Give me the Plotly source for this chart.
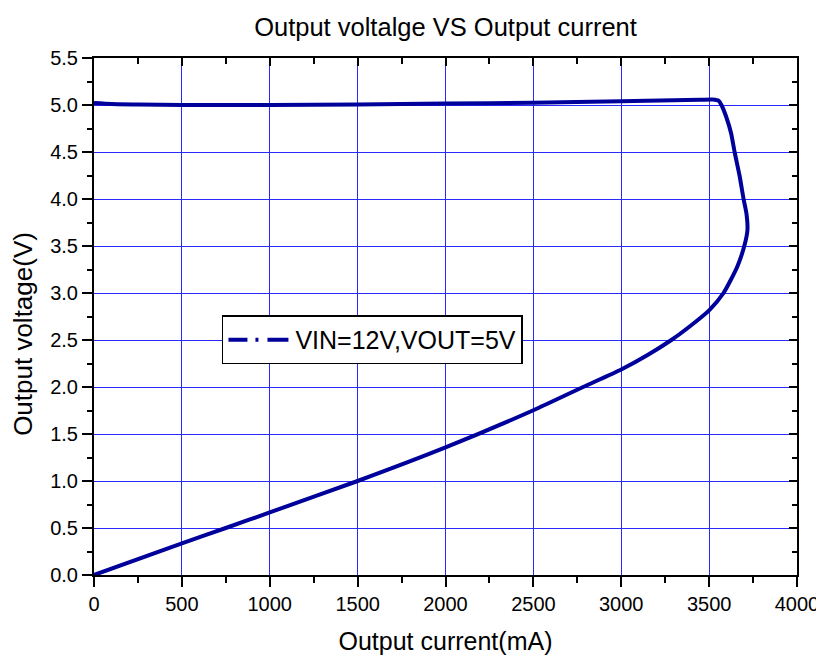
import plotly.graph_objects as go

# ---- data ----
current_ma = [0, 100, 250, 500, 1000, 1500, 2000, 2500, 3000, 3300, 3450, 3520,
              3555, 3570, 3598, 3625, 3645, 3673, 3696, 3712, 3718, 3700,
              3660, 3582, 3500, 3400, 3285, 3150, 3000, 2783,
              2500, 2000, 1500, 1000, 750, 500, 0]
voltage_v = [5.02, 5.01, 5.005, 5.0, 5.0, 5.005, 5.015, 5.025, 5.04, 5.05, 5.055, 5.058,
             5.045, 5.0, 4.87, 4.7, 4.5, 4.25, 4.0, 3.85, 3.67, 3.5,
             3.28, 3.0, 2.816, 2.66, 2.5, 2.34, 2.186, 2.0,
             1.753, 1.357, 1.0, 0.666, 0.5, 0.337, 0.0]
series_name = "VIN=12V,VOUT=5V"
title_text = "Output voltalge VS Output current"
x_title = "Output current(mA)"
y_title = "Output voltage(V)"

FONT = "Arial, 'Liberation Sans', sans-serif"
LINE_COLOR = "#00009B"
GRID_COLOR = "#2a2aff"

fig = go.Figure()
fig.add_trace(go.Scatter(
    x=current_ma, y=voltage_v, mode="lines",
    line=dict(color=LINE_COLOR, width=4, shape="spline", smoothing=0.6),
    showlegend=False, name=series_name,
))
# legend entry (dash-dot sample as in the reference), also anchors the mirror axes
fig.add_trace(go.Scatter(
    x=[None], y=[None], mode="lines", xaxis="x2", yaxis="y2",
    line=dict(color=LINE_COLOR, width=4, dash="19px,8px,3px,9px,21px,60px"),
    name=series_name, showlegend=True,
))

common_tick = dict(tickcolor="black", tickwidth=2)

# the page body adds an 8px offset, so the figure is 8px smaller on each side
fig.update_layout(
    width=816, height=649,
    margin=dict(l=85.5, r=26.5, t=49.5, b=82, autoexpand=False),
    paper_bgcolor="white", plot_bgcolor="white",
    font=dict(family=FONT, color="black"),
    title=dict(text=title_text, xref="paper", x=0.5, xanchor="center",
               y=0.9707, yanchor="middle",
               font=dict(size=25.5, family=FONT, color="black")),
    xaxis=dict(
        range=[0, 4000], dtick=500, tick0=0, automargin=False,
        ticks="outside", ticklen=10, **common_tick,
        minor=dict(dtick=250, ticks="outside", ticklen=6, tickcolor="black", tickwidth=2, showgrid=False),
        showgrid=True, gridcolor=GRID_COLOR, gridwidth=1,
        showline=True, linecolor="black", linewidth=2, zeroline=False,
        tickfont=dict(size=20, family=FONT),
        title=dict(text=x_title, font=dict(size=25, family=FONT), standoff=18),
    ),
    yaxis=dict(
        range=[0, 5.5], dtick=0.5, tick0=0, tickformat=".1f", automargin=False,
        ticks="outside", ticklen=10, **common_tick,
        minor=dict(dtick=0.25, ticks="outside", ticklen=5, tickcolor="black", tickwidth=2, showgrid=False),
        showgrid=True, gridcolor=GRID_COLOR, gridwidth=1,
        showline=True, linecolor="black", linewidth=2, zeroline=False,
        tickfont=dict(size=20, family=FONT),
    ),
    xaxis2=dict(
        overlaying="x", side="top", anchor="y", range=[0, 4000], dtick=500, tick0=0,
        automargin=False,
        ticks="inside", ticklen=8, **common_tick,
        minor=dict(dtick=250, ticks="inside", ticklen=6, tickcolor="black", tickwidth=2, showgrid=False),
        showticklabels=False, showgrid=False, showline=True, linecolor="black",
        linewidth=2, zeroline=False,
    ),
    yaxis2=dict(
        overlaying="y", side="right", anchor="x", range=[0, 5.5], dtick=0.5, tick0=0,
        automargin=False,
        ticks="inside", ticklen=8, **common_tick,
        minor=dict(dtick=0.25, ticks="inside", ticklen=5, tickcolor="black", tickwidth=2, showgrid=False),
        showticklabels=False, showgrid=False, showline=True, linecolor="black",
        linewidth=2, zeroline=False,
    ),
    legend=dict(
        x=0.182, y=0.502, xanchor="left", yanchor="top",
        bgcolor="white", bordercolor="black", borderwidth=1.5,
        font=dict(size=25, family=FONT, color="black"),
        itemwidth=62, tracegroupgap=0,
    ),
    annotations=[dict(
        text=y_title, xref="paper", yref="paper", x=-0.1001, y=0.4657,
        xanchor="center", yanchor="middle", textangle=-90, showarrow=False,
        font=dict(size=26, family=FONT, color="black"),
    )],
)

fig.write_html("out.html")
